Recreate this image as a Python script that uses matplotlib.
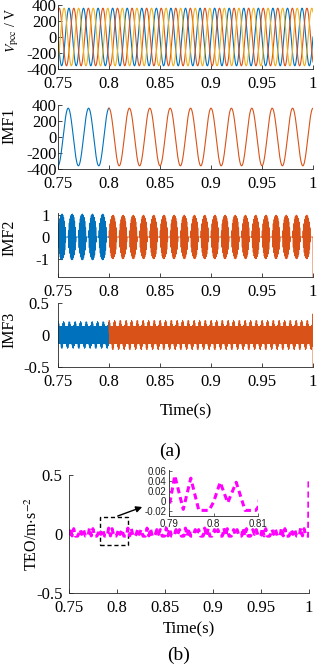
import numpy as np
import matplotlib
matplotlib.use('Agg')
import matplotlib.pyplot as plt
from matplotlib.patches import Rectangle

# ---------------- data ----------------
t_start, t_end, t_split = 0.75, 1.0, 0.80
x_ticks = [0.75, 0.8, 0.85, 0.9, 0.95, 1.0]
x_ticklabels = ['0.75', '0.8', '0.85', '0.9', '0.95', '1']

# PCC voltage: three phases (blue, orange, yellow)
vpcc_amp = 360.0
vpcc_freq = 70.0
vpcc_phase_deg = [90.0, -30.0, -150.0]   # phase at t = 0.75

# IMF1: 50 Hz component
imf1_amp = 360.0
imf1_freq = 50.0
imf1_peak_time = 0.76

# IMF2: bursts at 100 Hz of a high-frequency carrier
imf2_amp_before, imf2_amp_after = 1.05, 1.0
imf2_env_freq = 100.0
imf2_carrier_freq = 1300.0
imf2_burst_center = 0.7538
imf2_end_value = -1.8

# IMF3: dense ripple with small teeth on both edges
imf3_base = 0.13
imf3_bump_before, imf3_bump_after = 0.08, 0.10
imf3_bump_freq = 180.0
imf3_carrier_freq = 1500.0
imf3_end_values = [0.33, -0.5]

# TEO: one 0.02 s pattern read from the zoom window (0.79-0.81)
teo_pair_offsets = [0.0, 0.0013, 0.0032, 0.0049, 0.0067, 0.0090,
                    0.0100, 0.0115, 0.0132, 0.0151, 0.0171, 0.0195]
teo_pair_values = [-0.012, 0.050, -0.016, 0.045, -0.018, -0.018,
                   -0.002, 0.037, -0.003, 0.037, -0.018, -0.018]
teo_pair_period = 0.02
teo_end_value = 0.46

# ---------------- style ----------------
c_blue, c_orange, c_yellow = '#0072BD', '#D95319', '#EDB120'
c_mag = '#FF00FF'
plt.rcParams['font.family'] = ['Liberation Serif', 'DejaVu Serif']
plt.rcParams['mathtext.fontset'] = 'stix'
plt.rcParams['axes.unicode_minus'] = False

W, H = 318, 665
fig = plt.figure(figsize=(W / 100, H / 100), dpi=100)

def rect(l, r, top, bot):
    return [l / W, 1 - bot / H, (r - l) / W, (bot - top) / H]

def style(ax, ypad, size=12):
    for s in ['top', 'right']:
        ax.spines[s].set_visible(False)
    for s in ['left', 'bottom']:
        ax.spines[s].set_color('#262626')
        ax.spines[s].set_linewidth(0.6)
    ax.tick_params(direction='in', length=3, width=0.6, colors='#262626',
                   labelcolor='black', labelsize=size)
    ax.tick_params(axis='x', pad=5)
    ax.tick_params(axis='y', pad=ypad)
    ax.set_xlim(t_start, t_end)
    ax.set_xticks(x_ticks)
    ax.set_xticklabels(x_ticklabels)

t = np.linspace(t_start, t_end, 6001)
before = t <= t_split
after = t >= t_split
lw = 0.8
ylab_x = -0.16
R = 313

# Panel 1: Vpcc
ax1 = fig.add_axes(rect(58, R, 5, 69))
for col, ph in zip([c_blue, c_orange, c_yellow], vpcc_phase_deg):
    v = vpcc_amp * np.cos(2 * np.pi * vpcc_freq * (t - t_start) + np.deg2rad(ph))
    ax1.plot(t, v, color=col, lw=lw)
ax1.set_ylim(-400, 400)
ax1.set_yticks([-400, -200, 0, 200, 400])
style(ax1, 1.0)
ax1.set_ylabel(r'$V_{\rm pcc}$ / V', fontsize=10)
ax1.yaxis.set_label_coords(-0.145, 0.6)

# Panel 2: IMF1
ax2 = fig.add_axes(rect(58, R, 105, 169))
imf1 = imf1_amp * np.cos(2 * np.pi * imf1_freq * (t - imf1_peak_time))
ax2.plot(t[before], imf1[before], color=c_blue, lw=lw)
ax2.plot(t[after], imf1[after], color=c_orange, lw=lw)
ax2.set_ylim(-400, 400)
ax2.set_yticks([-400, -200, 0, 200, 400])
style(ax2, 1.0)
ax2.set_ylabel('IMF1', fontsize=11.5)
ax2.yaxis.set_label_coords(ylab_x, 0.67)

# Panel 3: IMF2
ax3 = fig.add_axes(rect(58, R, 213, 277))
env = np.abs(np.cos(np.pi * imf2_env_freq * (t - imf2_burst_center)))
env = np.clip((env - 0.35) / 0.65, 0, 1) ** 0.6
amp2 = np.where(before, imf2_amp_before, imf2_amp_after)
imf2 = amp2 * env * np.sin(2 * np.pi * imf2_carrier_freq * t)
imf2[-1] = imf2_end_value
ax3.plot(t[before], imf2[before], color=c_blue, lw=0.6)
ax3.plot(t[after], imf2[after], color=c_orange, lw=0.6)
ax3.set_ylim(-1.82, 1.09)
ax3.set_yticks([-1, 0, 1])
ax3.set_yticklabels(['-1', '0', '1'])
style(ax3, 6)
ax3.set_ylabel('IMF2', fontsize=11.5)
ax3.yaxis.set_label_coords(ylab_x, 0.61)

# Panel 4: IMF3
ax4 = fig.add_axes(rect(58, R, 303, 367))
bump_amp = np.where(before, imf3_bump_before, imf3_bump_after)
upper = imf3_base + bump_amp * np.clip(np.cos(2 * np.pi * imf3_bump_freq * t), 0, 1)
lower = -imf3_base - bump_amp * np.clip(np.cos(2 * np.pi * imf3_bump_freq * t + 2.0), 0, 1)
imf3 = (upper + lower) / 2 + (upper - lower) / 2 * np.sin(2 * np.pi * imf3_carrier_freq * t)
imf3[-2] = imf3_end_values[0]
imf3[-1] = imf3_end_values[1]
ax4.plot(t[before], imf3[before], color=c_blue, lw=0.6)
ax4.plot(t[after], imf3[after], color=c_orange, lw=0.6)
ax4.set_ylim(-0.5, 0.5)
ax4.set_yticks([-0.5, 0, 0.5])
ax4.set_yticklabels(['-0.5', '0', '0.5'])
style(ax4, 6)
ax4.set_ylabel('IMF3', fontsize=11.5)
ax4.yaxis.set_label_coords(ylab_x, 0.58)
ax4.set_xlabel('Time(s)', fontsize=12, labelpad=10)

fig.text(0.535, 1 - 451 / H, '(a)', ha='center', va='center', fontsize=14)

# Panel b: TEO
teo_t = np.concatenate([np.array(teo_pair_offsets) + t_start + k * teo_pair_period
                        for k in range(13)])
teo_v = np.tile(teo_pair_values, 13)
keep = teo_t < t_end - 0.0008
teo_t = np.append(teo_t[keep], [t_end - 0.0004, t_end])
teo_v = np.append(teo_v[keep], [-0.018, teo_end_value])

axb = fig.add_axes(rect(69, 309, 475, 593))
axb.plot(teo_t, teo_v, color=c_mag, lw=2.2, dashes=(2.0, 1.3))
axb.set_ylim(-0.5, 0.5)
axb.set_yticks([-0.5, 0, 0.5])
axb.set_yticklabels(['-0.5', '0', '0.5'])
style(axb, 4.5)
axb.set_ylabel(r'TEO/m$\cdot$s$^{-2}$', fontsize=11.5)
axb.yaxis.set_label_coords(-0.115, 0.5)
axb.set_xlabel('Time(s)', fontsize=12, labelpad=4)

axb.add_patch(Rectangle((0.782, -0.093), 0.029, 0.237, fill=False,
                        edgecolor='black', lw=1.0, linestyle=(0, (3, 2))))
axb.annotate('', xy=(0.829, 0.237), xytext=(0.798, 0.144),
             arrowprops=dict(arrowstyle='-|>', color='black', lw=1.0,
                             mutation_scale=9))

axi = fig.add_axes(rect(169, 258, 470, 516))
axi.plot(teo_t, teo_v, color=c_mag, lw=2.2, dashes=(2.0, 1.3))
axi.set_xlim(0.79, 0.81)
axi.set_ylim(-0.029, 0.061)
for s in ['top', 'right']:
    axi.spines[s].set_visible(False)
for s in ['left', 'bottom']:
    axi.spines[s].set_color('#262626')
    axi.spines[s].set_linewidth(0.6)
axi.set_xticks([0.79, 0.8, 0.81])
axi.set_xticklabels(['0.79', '0.8', '0.81'])
axi.set_yticks([-0.02, 0, 0.02, 0.04, 0.06])
axi.set_yticklabels(['-0.02', '0', '0.02', '0.04', '0.06'])
axi.tick_params(direction='in', length=2, width=0.5, labelsize=7, pad=2,
                colors='#262626', labelcolor='#222222')
for lab in axi.get_xticklabels() + axi.get_yticklabels():
    lab.set_family(['Liberation Sans', 'DejaVu Sans'])
axi.patch.set_alpha(0.0)

fig.text(0.56, 1 - 655 / H, '(b)', ha='center', va='center', fontsize=14)

fig.savefig('out.png', dpi=100)
